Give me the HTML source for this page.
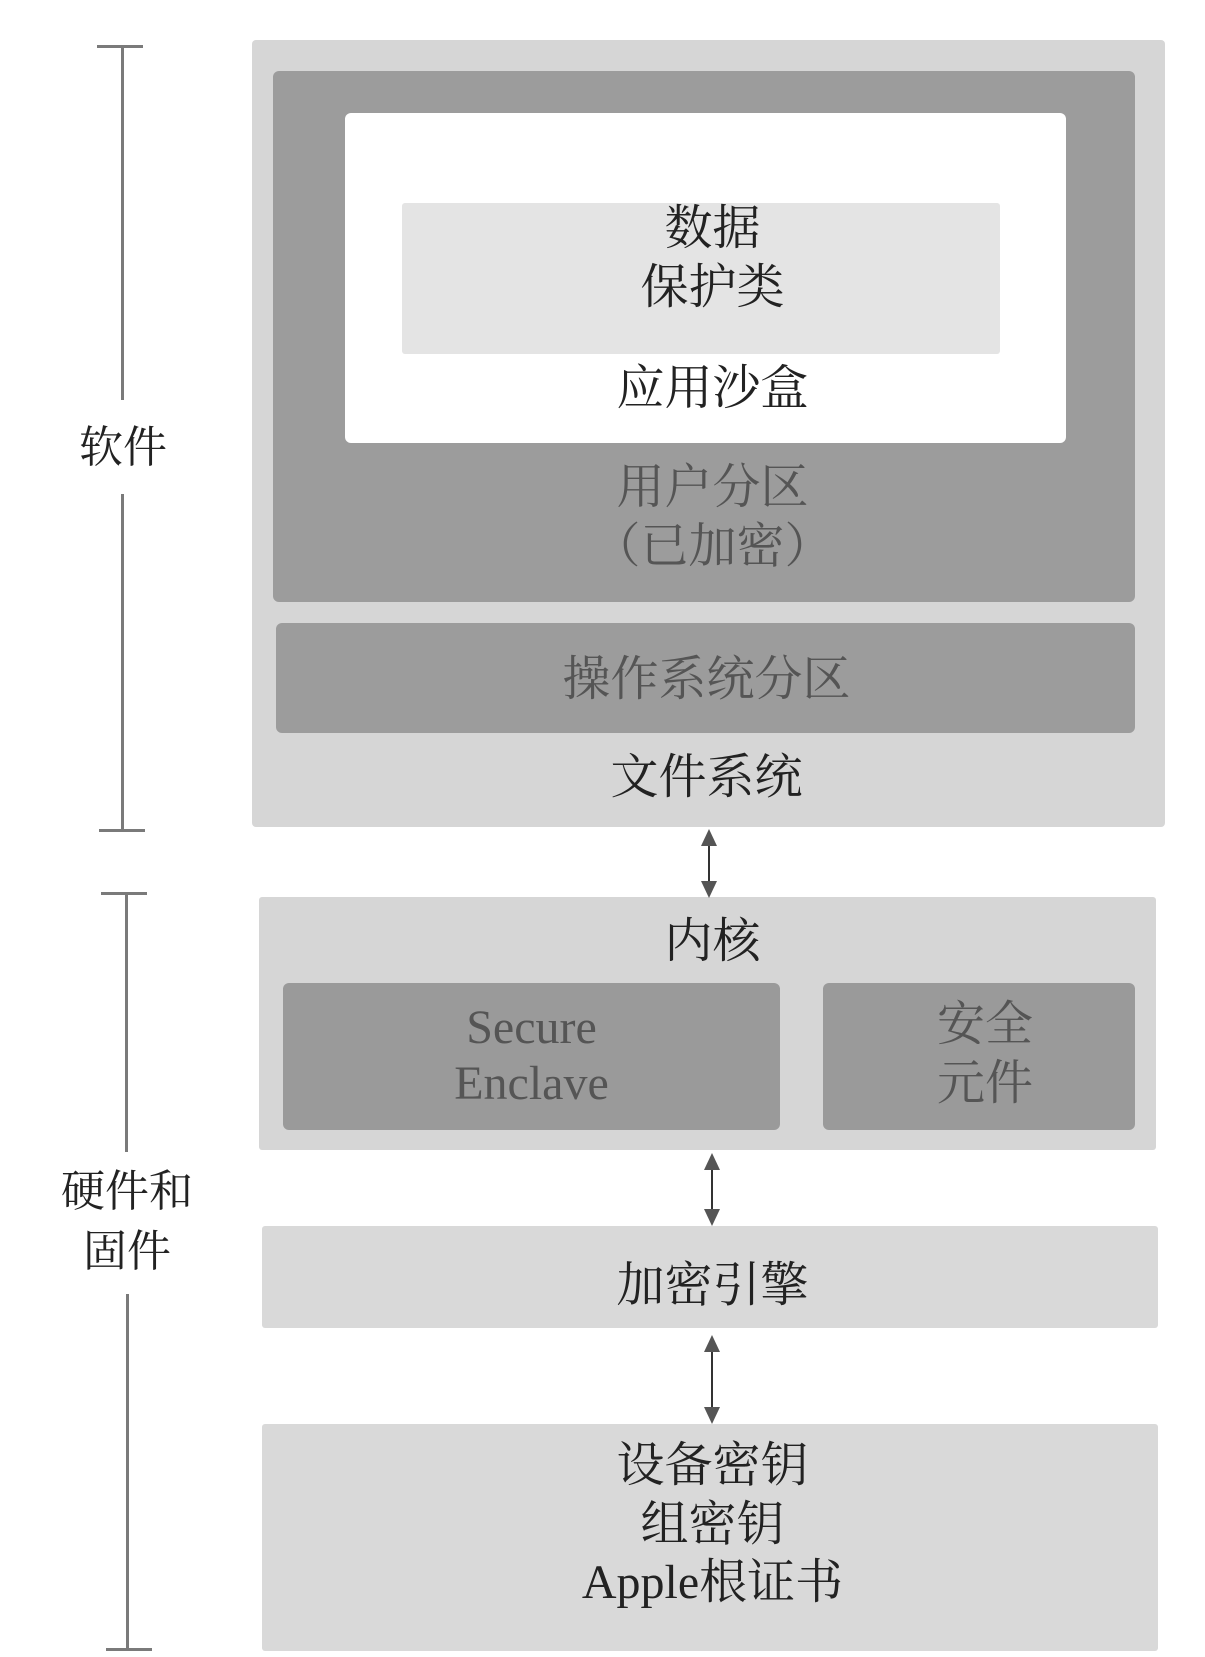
<!DOCTYPE html>
<html><head><meta charset="utf-8"><style>
body{margin:0;width:1205px;height:1657px;background:#fff;position:relative;overflow:hidden}
.b{position:absolute;border-radius:6px}
.t{position:absolute;left:110px;width:1205px;text-align:center;font-family:"Liberation Serif","Noto Serif CJK SC",serif;font-size:48px;line-height:1;color:#222;white-space:nowrap}
.g{color:#555}
.l{position:absolute;background:#7a7a7a}
.lab{position:absolute;font-family:"Liberation Serif","Noto Serif CJK SC",serif;font-size:44px;line-height:1;color:#222;text-align:center;width:200px}
</style></head><body>
<div class="b" style="left:252px;top:40px;width:913px;height:787px;background:#d6d6d6;border-radius:4px"></div>
<div class="b" style="left:273px;top:71px;width:862px;height:531px;background:#9c9c9c"></div>
<div class="b" style="left:345px;top:113px;width:721px;height:330px;background:#fff"></div>
<div class="b" style="left:402px;top:203px;width:598px;height:151px;background:#e4e4e4;border-radius:3px"></div>
<div class="b" style="left:276px;top:623px;width:859px;height:110px;background:#9c9c9c"></div>
<div class="b" style="left:259px;top:897px;width:897px;height:253px;background:#d6d6d6;border-radius:3px"></div>
<div class="b" style="left:283px;top:983px;width:497px;height:147px;background:#9a9a9a"></div>
<div class="b" style="left:823px;top:983px;width:312px;height:147px;background:#9a9a9a"></div>
<div class="b" style="left:262px;top:1226px;width:896px;height:102px;background:#d9d9d9;border-radius:3px"></div>
<div class="b" style="left:262px;top:1424px;width:896px;height:227px;background:#d9d9d9;border-radius:3px"></div>

<div class="t" style="top:205px">数据</div>
<div class="t" style="top:264px">保护类</div>
<div class="t" style="top:365px">应用沙盒</div>
<div class="t g" style="top:464px">用户分区</div>
<div class="t g" style="top:523px">（已加密）</div>
<div class="t g" style="top:656px;left:104px">操作系统分区</div>
<div class="t" style="top:754px;left:104px">文件系统</div>
<div class="t" style="top:918px">内核</div>
<div class="t g" style="top:1004px;left:283px;width:497px;font-size:48px">Secure</div>
<div class="t g" style="top:1060px;left:283px;width:497px;font-size:48px">Enclave</div>
<div class="t g" style="top:1001px;left:835px;width:300px">安全</div>
<div class="t g" style="top:1060px;left:835px;width:300px">元件</div>
<div class="t" style="top:1262px">加密引擎</div>
<div class="t" style="top:1442px">设备密钥</div>
<div class="t" style="top:1501px">组密钥</div>
<div class="t" style="top:1559px">Apple根证书</div>

<!-- brackets -->
<div class="l" style="left:97px;top:45px;width:46px;height:3px"></div>
<div class="l" style="left:121px;top:46px;width:3px;height:354px"></div>
<div class="l" style="left:121px;top:494px;width:3px;height:336px"></div>
<div class="l" style="left:99px;top:829px;width:46px;height:3px"></div>
<div class="lab" style="left:23px;top:426px">软件</div>
<div class="l" style="left:101px;top:892px;width:46px;height:3px"></div>
<div class="l" style="left:125px;top:893px;width:3px;height:259px"></div>
<div class="l" style="left:126px;top:1294px;width:3px;height:355px"></div>
<div class="l" style="left:106px;top:1648px;width:46px;height:3px"></div>
<div class="lab" style="left:27px;top:1170px;width:200px">硬件和</div>
<div class="lab" style="left:27px;top:1230px;width:200px">固件</div>

<svg width="1205" height="1657" style="position:absolute;left:0;top:0">
<g fill="#555" stroke="#333" stroke-width="2">
<line x1="709" y1="840" x2="709" y2="888"/>
<polygon points="709,829 701,846 717,846" stroke="none"/>
<polygon points="709,898 701,881 717,881" stroke="none"/>
<line x1="712" y1="1163" x2="712" y2="1216"/>
<polygon points="712,1153 704,1170 720,1170" stroke="none"/>
<polygon points="712,1226 704,1209 720,1209" stroke="none"/>
<line x1="712" y1="1345" x2="712" y2="1414"/>
<polygon points="712,1335 704,1352 720,1352" stroke="none"/>
<polygon points="712,1424 704,1407 720,1407" stroke="none"/>
</g></svg>
</body></html>
